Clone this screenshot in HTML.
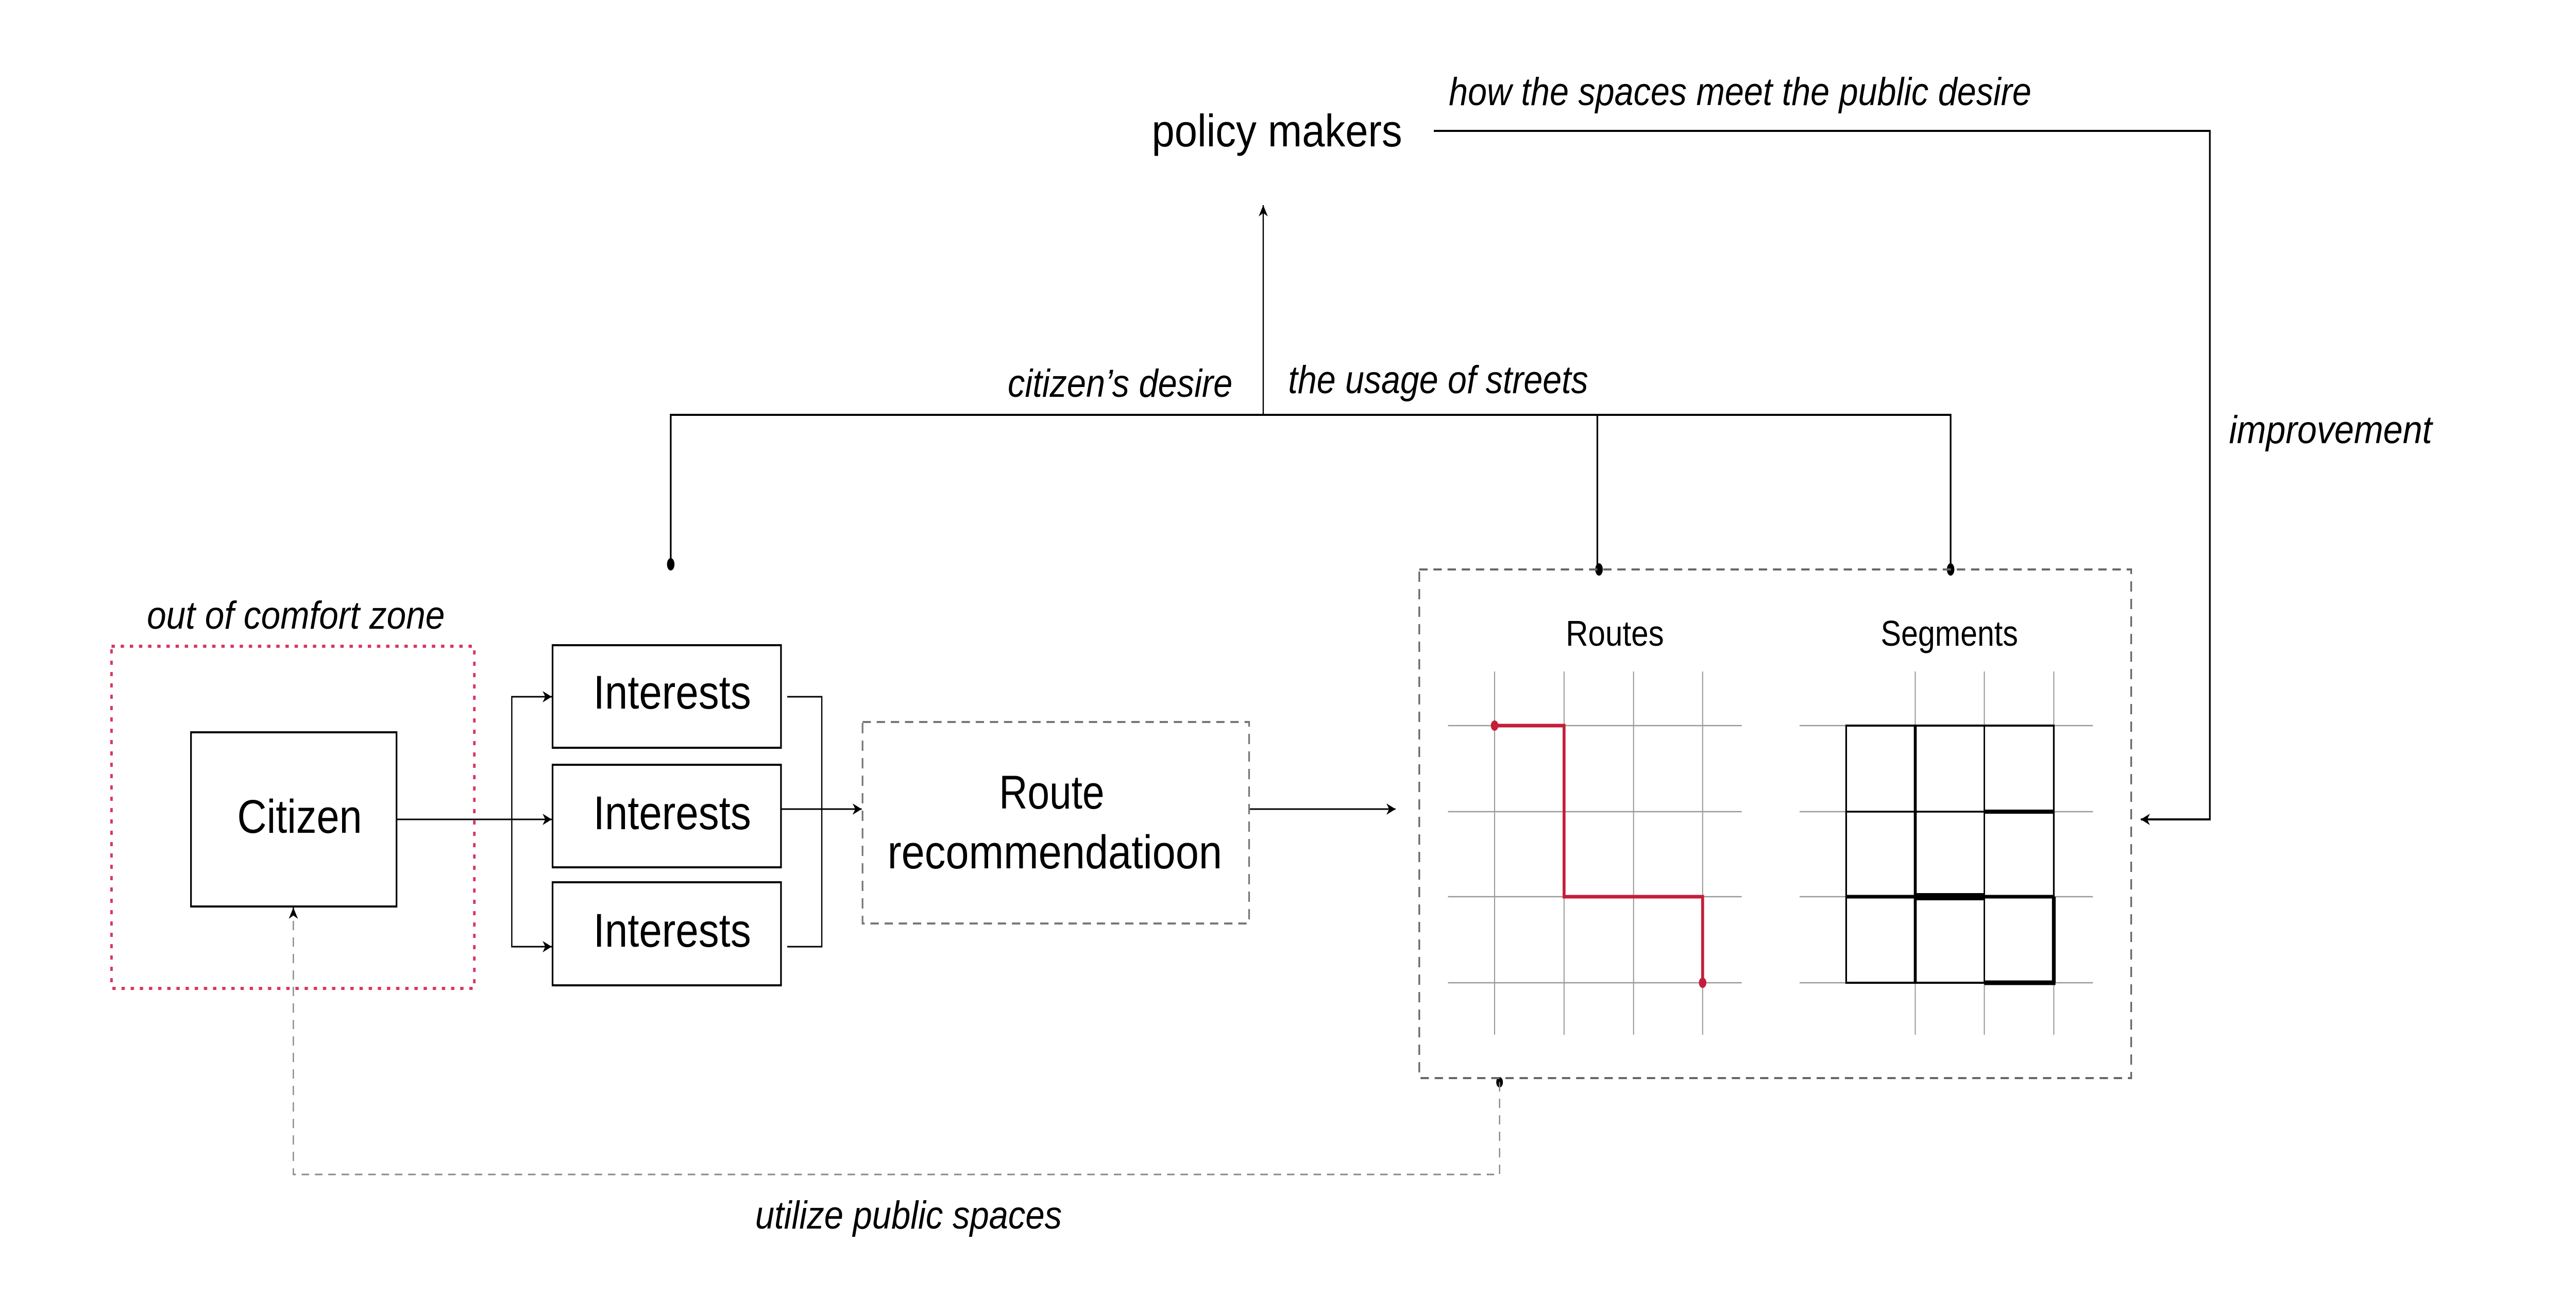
<!DOCTYPE html>
<html><head><meta charset="utf-8"><style>html,body{margin:0;padding:0;background:#fff;overflow:hidden;width:100%;height:100%}svg{display:block;position:fixed;left:0;top:0;width:100%;height:100%}</style></head>
<body>
<svg viewBox="0 0 6191 2542" preserveAspectRatio="none" xmlns="http://www.w3.org/2000/svg" font-family="Liberation Sans, sans-serif">
<defs>
<marker id="b" viewBox="0 0 10 10" refX="10" refY="5" markerWidth="22" markerHeight="22" markerUnits="userSpaceOnUse" orient="auto"><path d="M0,0 L10,5 L0,10 L3,5 z" fill="#000"/></marker>
</defs>
<rect width="6191" height="2542" fill="#fff"/>

<text x="2768" y="284" font-size="88" font-weight="500" textLength="602" lengthAdjust="spacingAndGlyphs">policy makers</text>
<text x="3482" y="204" font-size="76" font-style="italic" textLength="1400" lengthAdjust="spacingAndGlyphs">how the spaces meet the public desire</text>
<text x="2422" y="770" font-size="76" font-style="italic" textLength="540" lengthAdjust="spacingAndGlyphs">citizen’s desire</text>
<text x="3096" y="763" font-size="76" font-style="italic" textLength="721" lengthAdjust="spacingAndGlyphs">the usage of streets</text>
<text x="5357" y="860" font-size="76" font-style="italic" textLength="488" lengthAdjust="spacingAndGlyphs">improvement</text>
<text x="353" y="1220" font-size="76" font-style="italic" textLength="716" lengthAdjust="spacingAndGlyphs">out of comfort zone</text>
<text x="1815" y="2384" font-size="76" font-style="italic" textLength="737" lengthAdjust="spacingAndGlyphs">utilize public spaces</text>

<g stroke="#000" stroke-width="4" fill="none">
<path d="M3446 254 H5311 V1590 H5145" marker-end="url(#b)"/>
<path d="M1612 1095 V805 H4688 V1105"/>
<path d="M3839 805 V1105"/>
<path d="M3036 805 V398" stroke-width="3" marker-end="url(#b)"/>
</g>
<g fill="#000">
<ellipse cx="1612" cy="1095" rx="9" ry="12"/>
<ellipse cx="3843" cy="1105" rx="9" ry="12"/>
<ellipse cx="4688" cy="1105" rx="9" ry="12"/>
<ellipse cx="3604" cy="2100" rx="8" ry="10"/>
</g>

<rect x="268" y="1254" width="872" height="664" fill="none" stroke="#d9365e" stroke-width="6" stroke-dasharray="8 14"/>

<rect x="459" y="1421" width="494" height="338" fill="#fff" stroke="#000" stroke-width="4"/>
<text x="570" y="1616" font-size="92" font-weight="500" textLength="300" lengthAdjust="spacingAndGlyphs">Citizen</text>

<g stroke="#000" stroke-width="4" fill="#fff">
<rect x="1328" y="1252" width="549" height="199"/>
<rect x="1328" y="1484" width="549" height="199"/>
<rect x="1328" y="1712" width="549" height="200"/>
</g>
<g font-size="92" font-weight="500">
<text x="1426" y="1375" textLength="379" lengthAdjust="spacingAndGlyphs">Interests</text>
<text x="1426" y="1609" textLength="379" lengthAdjust="spacingAndGlyphs">Interests</text>
<text x="1426" y="1837" textLength="379" lengthAdjust="spacingAndGlyphs">Interests</text>
</g>

<g stroke="#000" stroke-width="3" fill="none">
<path d="M953 1590 H1326" marker-end="url(#b)"/>
<path d="M1326 1352 H1230 V1837 H1326"/>
<path d="M1300 1352 H1326" marker-end="url(#b)"/>
<path d="M1300 1837 H1326" marker-end="url(#b)"/>
<path d="M1892 1352 H1975 V1837 H1892"/>
<path d="M1877 1570 H2071" marker-end="url(#b)"/>
<path d="M3002 1570 H3354" marker-end="url(#b)"/>
</g>

<rect x="2073" y="1401" width="929" height="391" fill="none" stroke="#777" stroke-width="4" stroke-dasharray="20 14"/>
<text x="2401" y="1569" font-size="92" font-weight="500" textLength="253" lengthAdjust="spacingAndGlyphs">Route</text>
<text x="2133" y="1685" font-size="92" font-weight="500" textLength="804" lengthAdjust="spacingAndGlyphs">recommendatioon</text>

<rect x="3411" y="1105" width="1711" height="987" fill="none" stroke="#666" stroke-width="4" stroke-dasharray="20 14"/>
<text x="3763" y="1253" font-size="70" font-weight="500" textLength="236" lengthAdjust="spacingAndGlyphs">Routes</text>
<text x="4520" y="1253" font-size="70" font-weight="500" textLength="330" lengthAdjust="spacingAndGlyphs">Segments</text>

<g stroke="#999" stroke-width="2.5">
<path d="M3480 1408 H4186 M3480 1575 H4186 M3480 1740 H4186 M3480 1907 H4186"/>
<path d="M3592 1303 V2008 M3759 1303 V2008 M3926 1303 V2008 M4092 1303 V2008"/>
</g>
<path d="M3592 1408 H3759 V1740 H4092 V1907" fill="none" stroke="#c41e3a" stroke-width="7"/>
<ellipse cx="3592" cy="1408" rx="9" ry="10" fill="#c41e3a"/>
<ellipse cx="4092" cy="1907" rx="9" ry="10" fill="#c41e3a"/>

<g stroke="#999" stroke-width="2.5">
<path d="M4325 1408 H5030 M4325 1575 H5030 M4325 1740 H5030 M4325 1907 H5030"/>
<path d="M4603 1303 V2008 M4769 1303 V2008 M4936 1303 V2008"/>
</g>
<g stroke="#000" fill="none">
<rect x="4437" y="1408" width="499" height="499" stroke-width="4"/>
<path d="M4437 1575 H4769 M4769 1408 V1907 M4437 1740 H4936" stroke-width="3.5"/>
<path d="M4603 1408 V1907" stroke-width="7"/>
<path d="M4437 1740 H4936" stroke-width="7"/>
<path d="M4603 1740 H4769" stroke-width="14"/>
<path d="M4769 1575 H4936" stroke-width="8"/>
<path d="M4936 1740 V1907 M4769 1907 H4940" stroke-width="9"/>
</g>

<path d="M3604 2100 V2279 H705 V1762" fill="none" stroke="#888" stroke-width="3" stroke-dasharray="18 14"/>
<path d="M705 1775 V1761" stroke="#000" stroke-width="3" marker-end="url(#b)"/>
</svg>
</body></html>
